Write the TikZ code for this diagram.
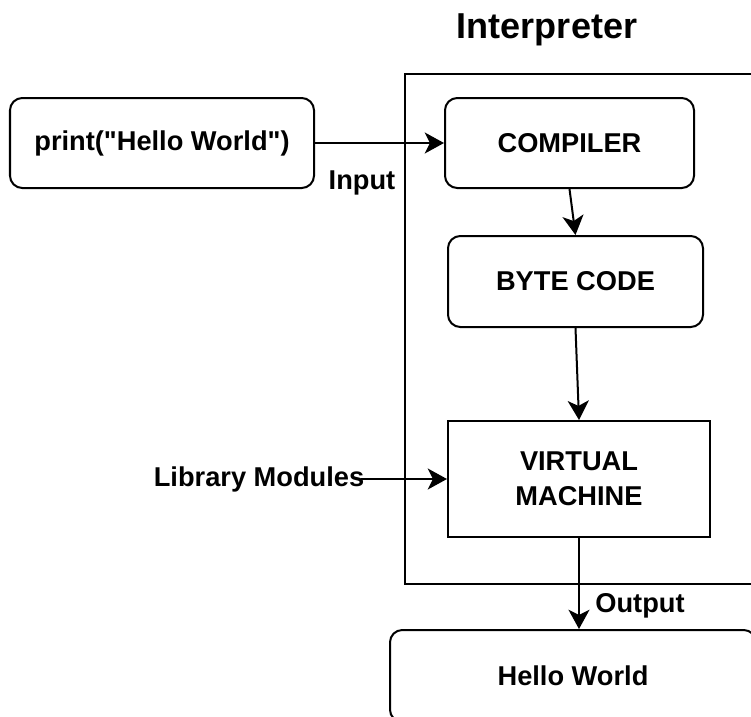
\documentclass[tikz,border=0pt]{standalone}
\usepackage{fontspec}
\setmainfont{Liberation Sans}
\usetikzlibrary{positioning, arrows.meta}

\begin{document}
\begin{tikzpicture}[x=0.02cm, y=-0.02cm,
        txt/.style={font=\bfseries\fontsize{15.5}{18}\selectfont, inner sep=0pt, align=center},
        roundbox/.style={draw, line width=1.14pt, rounded corners=7pt, txt},
        plainbox/.style={draw, line width=1.14pt, txt},
        flow/.style={-{Stealth[length=11pt, width=12pt, inset=3pt]}, line width=1.14pt}
    ]
        \useasboundingbox (0,0) rectangle (751,717);
        \clip (0,0) rectangle (751,717);

        % interpreter container
        \node[plainbox, minimum width=356*0.02cm, minimum height=510*0.02cm, anchor=north west] (interp) at (404,73) {};
        \node[font=\bfseries\fontsize{20.5}{24}\selectfont] (title) at (547,30) {Interpreter};

        \node[roundbox, minimum width=304*0.02cm, minimum height=90*0.02cm] (src) at (162,143) {print(\textquotedbl Hello World\textquotedbl)};
        \node[roundbox, minimum width=249*0.02cm, minimum height=90*0.02cm] (comp) at (569.5,143) {COMPILER};
        \node[roundbox, minimum width=255*0.02cm, minimum height=91*0.02cm] (byte) at (575.5,281.5) {BYTE CODE};
        \node[plainbox, minimum width=262*0.02cm, minimum height=116*0.02cm] (vm) at (579,479) {VIRTUAL\\[2pt]MACHINE};
        \node[roundbox, minimum width=366*0.02cm, minimum height=92*0.02cm] (out) at (573,676) {Hello World};
        \node[txt] (lib) at (259,479) {Library Modules};

        \draw[flow] (src) -- (comp);
        \draw[flow] (comp.south) -- (byte.north);
        \draw[flow] (byte.south) -- (vm.north);
        \draw[flow] ([xshift=-2pt]lib.east) -- (vm.west);
        \draw[flow] (vm.south) -- (vm.south |- out.north);

        \node[txt] (inlbl) at (362,183) {Input};
        \node[txt] (outlbl) at (640,606) {Output};
    \end{tikzpicture}
\end{document}
